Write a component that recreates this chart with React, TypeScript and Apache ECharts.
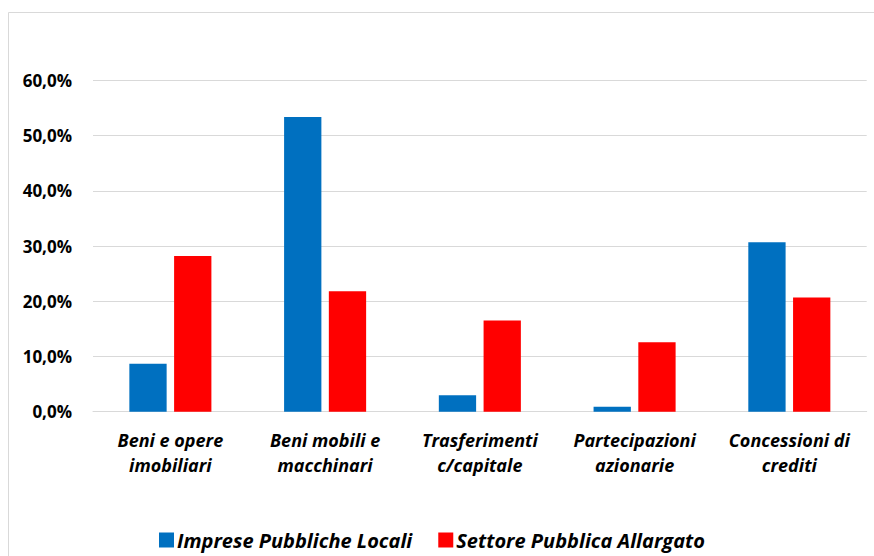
import React, { useEffect, useRef } from "react";
import * as echarts from "echarts";

const categories = [
  "Beni e opere\nimobiliari",
  "Beni mobili e\nmacchinari",
  "Trasferimenti\nc/capitale",
  "Partecipazioni\nazionarie",
  "Concessioni di\ncrediti",
];
const impresePubblicheLocali = [8.7, 53.4, 3.0, 0.9, 30.7];
const settorePubblicaAllargato = [28.2, 21.8, 16.5, 12.6, 20.7];
const seriesNames = ["Imprese Pubbliche Locali", "Settore Pubblica Allargato"];

const FONT = "'Open Sans', Lato, sans-serif";

export default function App() {
  const ref = useRef<HTMLDivElement>(null);

  useEffect(() => {
    if (!ref.current) return;
    const chart = echarts.init(ref.current, undefined, { renderer: "svg" });
    chart.setOption({
      animation: false,
      backgroundColor: "#ffffff",
      textStyle: { fontFamily: FONT },
      graphic: [
        {
          type: "rect",
          shape: { x: 8.5, y: 12.5, width: 900, height: 600 },
          style: { fill: "none", stroke: "#d9d9d9", lineWidth: 1 },
          silent: true,
          z: -1,
        },
      ],
      grid: { left: 93, right: 7.3, top: 80.5, bottom: 144.3, containLabel: false },
      legend: {
        left: 159,
        top: 528,
        padding: 0,
        itemWidth: 15,
        itemHeight: 15,
        itemGap: 26,
        icon: "rect",
        textStyle: {
          fontFamily: FONT,
          fontSize: 20,
          lineHeight: 24,
          fontWeight: "bold",
          fontStyle: "italic",
          color: "#000000",
          padding: [0, 0, 0, -2],
        },
        data: seriesNames,
      },
      xAxis: {
        type: "category",
        data: categories,
        axisLine: { show: true, lineStyle: { color: "#d9d9d9", width: 1 } },
        axisTick: { show: false },
        axisLabel: {
          margin: 16,
          fontFamily: FONT,
          fontSize: 18,
          fontWeight: "bold",
          fontStyle: "italic",
          color: "#000000",
          lineHeight: 25,
          interval: 0,
        },
      },
      yAxis: {
        type: "value",
        min: 0,
        max: 60,
        interval: 10,
        axisLine: { show: false },
        axisTick: { show: false },
        splitLine: { lineStyle: { color: "#d9d9d9", width: 1 } },
        axisLabel: {
          margin: 21,
          fontFamily: FONT,
          fontSize: 17,
          fontWeight: "bold",
          color: "#000000",
          formatter: (v: number) => v.toFixed(1).replace(".", ",") + "%",
        },
      },
      series: [
        {
          name: seriesNames[0],
          type: "bar",
          data: impresePubblicheLocali,
          barWidth: "24.1%",
          barGap: "20%",
          itemStyle: { color: "#0070C0" },
        },
        {
          name: seriesNames[1],
          type: "bar",
          data: settorePubblicaAllargato,
          barWidth: "24.1%",
          barGap: "20%",
          itemStyle: { color: "#FF0000" },
        },
      ],
    });
    return () => chart.dispose();
  }, []);

  return (
    <div
      ref={ref}
      style={{ position: "fixed", left: 0, top: 0, width: 874, height: 556 }}
    />
  );
}
